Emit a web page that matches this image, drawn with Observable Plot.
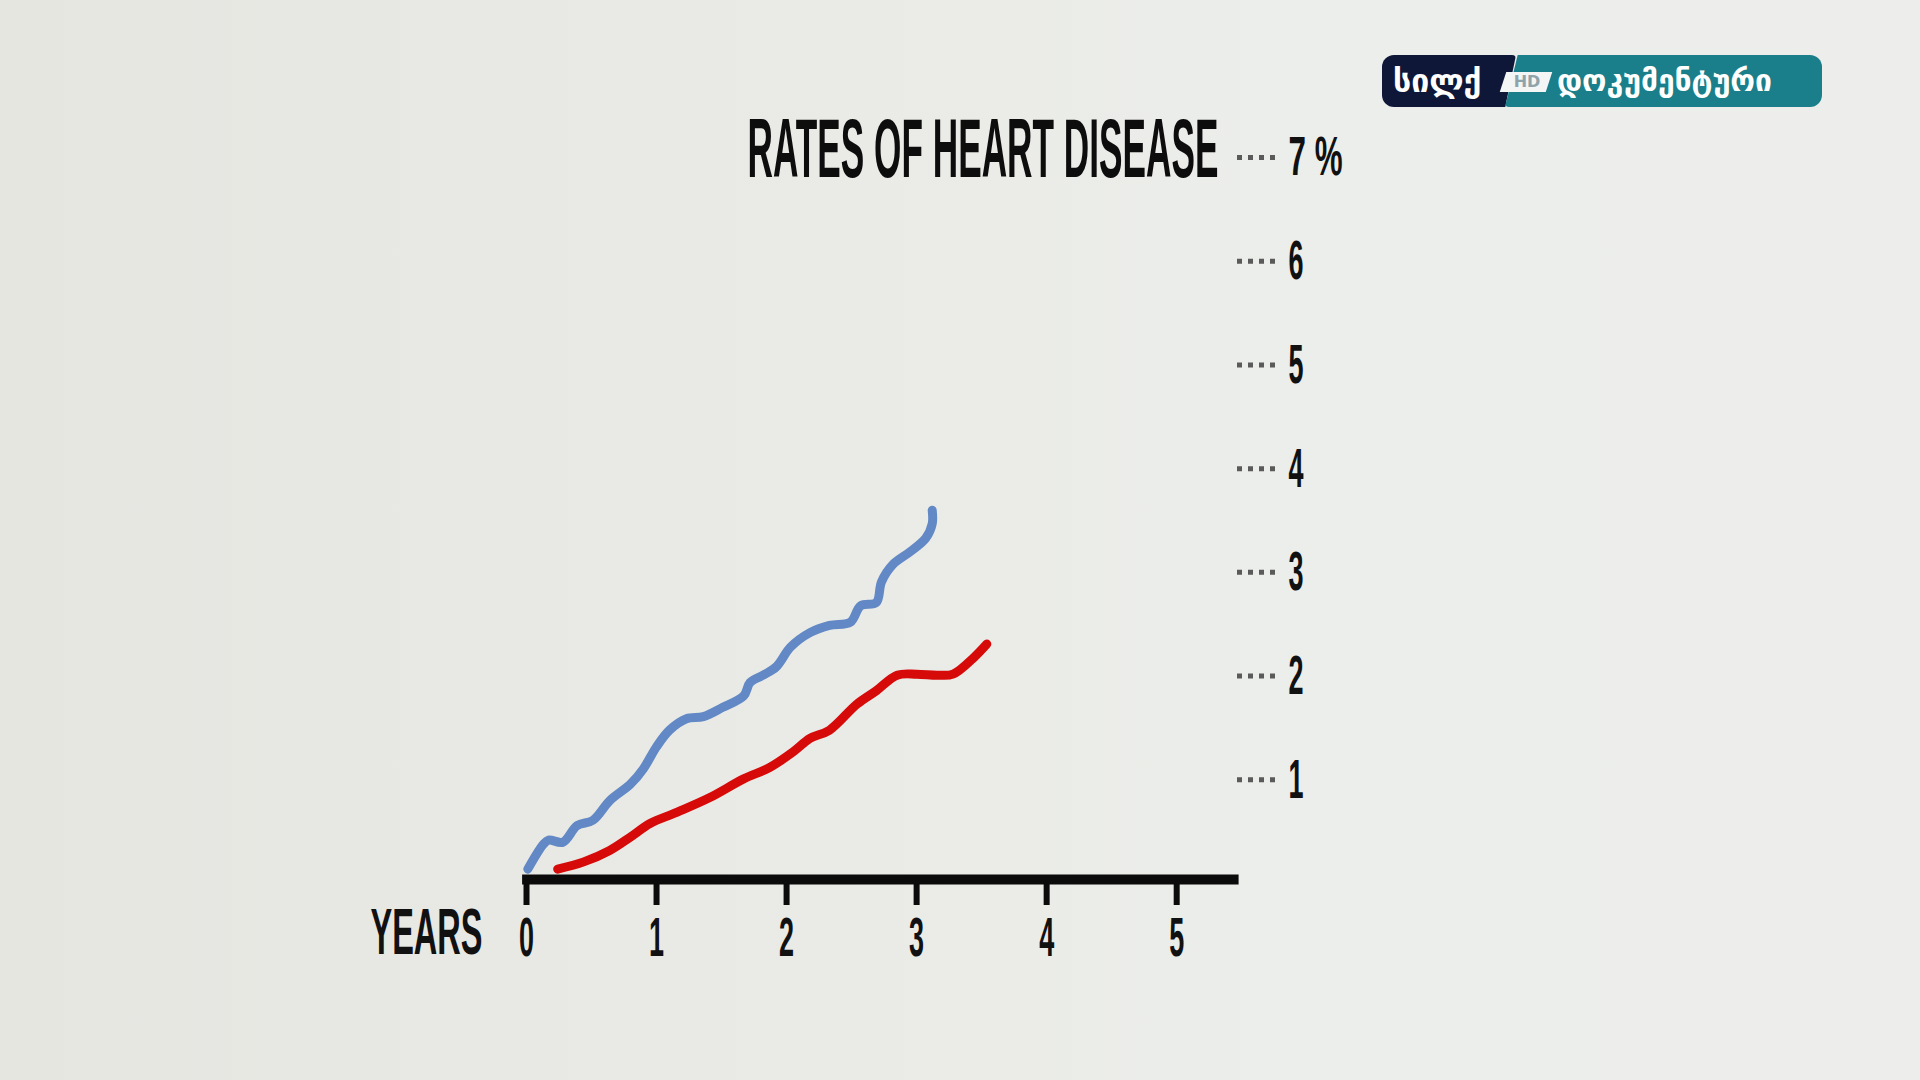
<!DOCTYPE html>
<html>
<head>
<meta charset="utf-8">
<script src="https://cdn.jsdelivr.net/npm/d3@7"></script>
<script src="https://cdn.jsdelivr.net/npm/@observablehq/plot@0.6"></script>
<style>
  html, body { margin: 0; padding: 0; width: 1920px; height: 1080px; overflow: hidden; }
  body { background: linear-gradient(90deg, #e5e6e0 0%, #e9eae5 35%, #eceeeb 70%, #edeeec 100%); font-family: "Liberation Sans", Arial, sans-serif; }
  #chart { position: absolute; left: 0; top: 0; }
  .logo-navy { position: absolute; left: 1382px; top: 55px; width: 134px; height: 52px; background: #0e1738; border-radius: 12px 4px 4px 12px; clip-path: polygon(0 0, 100% 0, 92% 100%, 0 100%); }
  .logo-teal { position: absolute; left: 1505px; top: 55px; width: 317px; height: 52px; background: #1a7f8a; border-radius: 4px 12px 12px 4px; clip-path: polygon(4% 0, 100% 0, 100% 100%, 0 100%); }
  .logo-text { position: absolute; color: #fff; font-family: "DejaVu Sans", sans-serif; font-weight: bold; white-space: nowrap; line-height: 52px; top: 55px; }
  .logo-hd { position: absolute; left: 1503px; top: 72px; width: 46px; height: 20px; background: #f4f6f6; transform: skewX(-18deg); }
  .logo-hd-text { position: absolute; left: 1510px; top: 72px; width: 34px; height: 20px; line-height: 20px; text-align: center; color: #8fa3ab; font: bold 16px "DejaVu Sans", sans-serif; }
</style>
</head>
<body>
<div id="chart"></div>
<div class="logo-navy"></div>
<div class="logo-teal"></div>
<div class="logo-hd"></div>
<div class="logo-hd-text">HD</div>
<div class="logo-text" style="left:1393px; font-size:32px;">სილქ</div>
<div class="logo-text" style="left:1557px; font-size:30px;">დოკუმენტური</div>
<script>
// ---- data ----
const title = "RATES OF HEART DISEASE";
const xLabel = "YEARS";
const xTicks = [0, 1, 2, 3, 4, 5];
const xTickLabels = ["0", "1", "2", "3", "4", "5"];
const yTicks = [1, 2, 3, 4, 5, 6, 7];
const yTickLabels = ["1", "2", "3", "4", "5", "6", "7 %"];

const blueYears = [0.01, 0.13, 0.17, 0.28, 0.39, 0.51, 0.64, 0.80, 0.90, 1.00, 1.10, 1.23, 1.36, 1.51, 1.67, 1.72, 1.82, 1.92, 2.03, 2.18, 2.33, 2.49, 2.57, 2.69, 2.73, 2.82, 2.95, 3.07, 3.12, 3.12];
const blueRates = [0.10, 0.34, 0.38, 0.36, 0.52, 0.57, 0.76, 0.92, 1.07, 1.28, 1.44, 1.55, 1.57, 1.66, 1.77, 1.90, 1.97, 2.05, 2.24, 2.38, 2.45, 2.48, 2.64, 2.67, 2.87, 3.04, 3.16, 3.29, 3.43, 3.56];

const redYears = [0.24, 0.44, 0.64, 0.80, 0.95, 1.16, 1.41, 1.67, 1.87, 2.05, 2.18, 2.33, 2.54, 2.69, 2.85, 3.00, 3.16, 3.28, 3.44, 3.54];
const redRates = [0.10, 0.17, 0.28, 0.41, 0.54, 0.65, 0.79, 0.97, 1.08, 1.23, 1.36, 1.44, 1.69, 1.82, 1.97, 1.98, 1.97, 1.98, 2.14, 2.27];

// ---- build tables ----
const blue = blueYears.map((x, i) => ({x, y: blueRates[i]}));
const red = redYears.map((x, i) => ({x, y: redRates[i]}));

const chart = Plot.plot({
  width: 1920,
  height: 1080,
  marginLeft: 526,
  marginRight: 684,
  marginTop: 153,
  marginBottom: 201,
  style: {background: "transparent", overflow: "visible"},
  x: {domain: [0, 5.46]},
  y: {domain: [0, 7]},
  marks: [
    Plot.line(blue, {x: "x", y: "y", stroke: "#6288c5", strokeWidth: 9, curve: "catmull-rom", strokeLinecap: "round", strokeLinejoin: "round"}),
    Plot.line(red, {x: "x", y: "y", stroke: "#d70a0a", strokeWidth: 9, curve: "catmull-rom", strokeLinecap: "round", strokeLinejoin: "round"}),
    Plot.axisX(xTicks, {tickSize: 26, tickPadding: 11, strokeWidth: 6, stroke: "#0b0b0b", fill: "#111", fontSize: 56, fontFamily: "Liberation Sans", fontWeight: "bold", tickFormat: d => xTickLabels[xTicks.indexOf(d)], label: null}),
    Plot.ruleY([0], {x1: -0.03, x2: 5.48, stroke: "#0b0b0b", strokeWidth: 10}),
    Plot.axisY(yTicks, {anchor: "right", tickSize: 42, tickPadding: 10, strokeWidth: 5, stroke: "#5a5a5a", strokeDasharray: "5,6", fill: "#111", fontSize: 56, fontFamily: "Liberation Sans", fontWeight: "bold", tickFormat: d => yTickLabels[yTicks.indexOf(d)], label: null, dy: 4}),
    Plot.text([{x: 0, y: 0, t: xLabel}], {x: "x", y: "y", text: "t", textAnchor: "end", lineAnchor: "middle", dx: -44, dy: 54, fontSize: 64, fontFamily: "Liberation Sans", fontWeight: "bold", fill: "#111"}),
    Plot.text([{x: 5.46, y: 7, t: title}], {x: "x", y: "y", text: "t", textAnchor: "end", lineAnchor: "middle", dx: -18, dy: -3, fontSize: 84, fontFamily: "Liberation Sans", fontWeight: "bold", fill: "#0d0d0d"})
  ]
});

document.getElementById("chart").appendChild(chart);

// condense the hand-lettered text horizontally without moving it
d3.select(chart).selectAll("text").each(function() {
  const txt = this.textContent;
  let w;
  if (txt === title) w = 471;
  else if (txt === xLabel) w = 112;
  else if (txt === "7 %") w = 54;
  else w = 15;
  d3.select(this).attr("textLength", w).attr("lengthAdjust", "spacingAndGlyphs");
});
d3.select(chart).selectAll("path, line").filter(function() {
  return this.getAttribute("stroke-dasharray") === "5,6";
}).attr("stroke-linecap", "butt");
</script>
</body>
</html>
